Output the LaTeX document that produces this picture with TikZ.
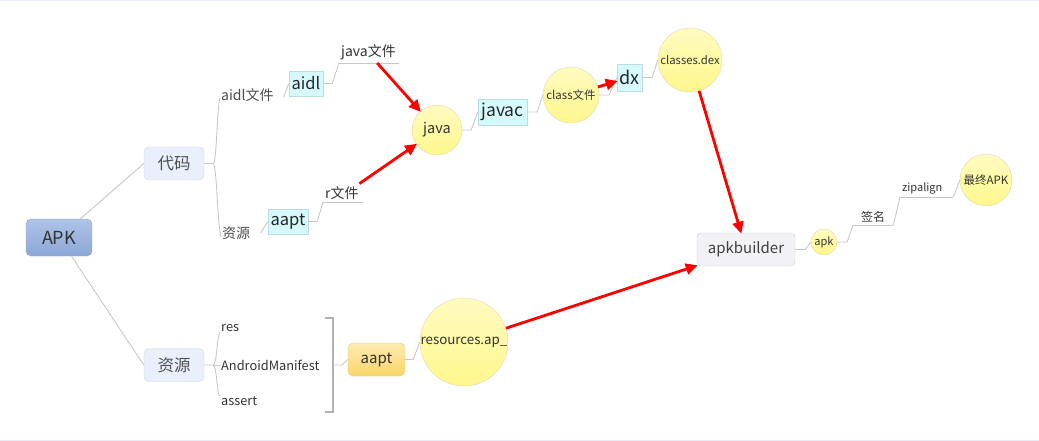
\documentclass[tikz,border=0pt]{standalone}
\usepackage{fontspec}
\setmainfont{Noto Sans CJK SC}
\usetikzlibrary{arrows.meta}
\definecolor{conn}{HTML}{C8C8C8}
\definecolor{txt}{HTML}{333333}
\definecolor{redarr}{HTML}{FF0000}
\tikzset{
  fs/.style={font=\fontsize{#1}{#1}\selectfont},
  apkbox/.style={draw=#1, rounded corners=5pt, top color=apktop, bottom color=apkbot, minimum width=66pt, minimum height=37pt, text=txt},
  mainbox/.style={draw=mainborder, fill=mainfill, rounded corners=5pt, minimum width=60pt, minimum height=33pt, text=maintext, fs=16.5},
  cyanbox/.style={draw=cyanborder, fill=cyanfill, inner sep=2pt, text=black!85, minimum height=26pt},
  bubble/.style={circle, draw=bubbleborder, top color=bubbletop, bottom color=bubblebot, inner sep=0pt, text=txt, minimum size=#1},
  plaintext/.style={inner xsep=1pt, inner ysep=2pt, text=txt, fs=14},
  underl/.style={inner xsep=2pt, inner ysep=2.5pt, text=txt, anchor=south west},
  link/.style={draw=conn, line width=0.9pt},
  redarrow/.style={draw=redarr, line width=2.8pt, -{Triangle[length=12pt,width=11pt]}, shorten >=-1pt},
}
\colorlet{apkborder}{blue!30!gray!60}
\definecolor{apktop}{HTML}{AEC3E8}
\definecolor{apkbot}{HTML}{8CA8D6}
\definecolor{mainborder}{HTML}{C9D6EC}
\definecolor{mainfill}{HTML}{E9F0FB}
\definecolor{maintext}{HTML}{505050}
\definecolor{cyanborder}{HTML}{BBDDE0}
\definecolor{cyanfill}{HTML}{D6FAFC}
\definecolor{bubbleborder}{HTML}{DDD9B0}
\definecolor{bubbletop}{HTML}{FFFBC0}
\definecolor{bubblebot}{HTML}{FFF78C}
\definecolor{grayborder}{HTML}{CACAD2}
\definecolor{grayfill}{HTML}{F1F1F6}
\definecolor{orangetop}{HTML}{FDEBB0}
\definecolor{orangebot}{HTML}{FBD56A}
\definecolor{orangeborder}{HTML}{E9C979}
\definecolor{frameline}{HTML}{E6EDF7}
\begin{document}
\begin{tikzpicture}[x=1pt,y=-1pt]
\useasboundingbox (0,0) rectangle (1039,441);
\draw[frameline, line width=1.2pt] (0,0.6) -- (1039,0.6);
\draw[frameline, line width=1.2pt] (0,440.2) -- (1039,440.2);

% main nodes
\node[apkbox=apkborder, fs=18] (apk) at (59,237.5) {APK};
\node[mainbox] (code) at (174,163.5) {代码};
\node[mainbox] (res) at (174,365) {资源};

% code branch
\node[plaintext, anchor=west, text=black!70] (aidlf) at (220,95) {aidl文件};
\node[plaintext, anchor=west, text=black!70] (resf) at (221,233) {资源};
\node[cyanbox, fs=16.5, minimum width=34pt, minimum height=25pt] (aidl) at (306,83.5) {aidl};
\node[cyanbox, fs=16.5, minimum width=40pt, minimum height=25pt] (aapt) at (288,221.5) {aapt};
\node[underl, fs=14, text width=56pt] (jf) at (339,63) {java文件};
\node[underl, fs=14, text width=36pt] (rf) at (323,202) {r文件};
\node[bubble=50pt, fs=14.5] (java) at (437,130) {java};
\node[cyanbox, fs=17.5, minimum width=49pt] (javac) at (502.5,112) {javac};
\node[bubble=56pt, fs=11.5] (cls) at (571,95) {class文件};
\node[cyanbox, fs=18, minimum width=25pt, minimum height=27pt] (dx) at (629.5,77.5) {dx};
\node[bubble=64pt, fs=11.3] (dex) at (690,60) {classes.dex};
\node[draw=grayborder, fill=grayfill, rounded corners=4pt, minimum width=98pt, minimum height=33pt, text=black!75, fs=15] (ab) at (746,249.5) {apkbuilder};
\node[bubble=26pt, fs=11] (apkc) at (824,242) {apk};
\node[underl, fs=12, text width=36pt, align=center] (sig) at (853,225) {签名};
\node[underl, fs=11, text width=49pt] (zip) at (900,197) {zipalign};
\node[bubble=52pt, fs=11.5] (final) at (986,180) {最终APK};

% resource branch
\node[plaintext, anchor=west, fs=12.8] (ri1) at (220,328) {res};
\node[plaintext, anchor=west, fs=12.8] (ri2) at (220,365) {AndroidManifest};
\node[plaintext, anchor=west, fs=12.8] (ri3) at (220,401) {assert};
\node[draw=orangeborder, top color=orangetop, bottom color=orangebot, rounded corners=5pt, minimum width=57pt, minimum height=33pt, text=txt, fs=15] (aapt2) at (376.5,359.5) {aapt};
\node[bubble=88pt, fs=13.3] (rap) at (464,342) {resources.ap\_};

% coordinates
\coordinate (cfork) at (213,163.5);
\coordinate (rfork) at (213,365);
\coordinate (brk) at (333,365);

% underlines
\draw[link] (jf.south west) -- (jf.south east);
\draw[link] (rf.south west) -- (rf.south east);
\draw[link] (sig.south west) -- (sig.south east);
\draw[link] (zip.south west) -- (zip.south east);

% gray connectors
\draw[link] (apk) -- (code.west);
\draw[link] (apk) -- (res.west);
\draw[link] (code.east) -- (cfork) .. controls (217,163.5) and (217,105) .. ([yshift=-3pt]aidlf.west);
\draw[link] (cfork) .. controls (217,163.5) and (217,222) .. ([yshift=-4pt]resf.west);
\draw[link] ([xshift=9pt,yshift=-2pt]aidlf.east) -- (aidl.west);
\draw[link] ([xshift=9pt]resf.east) -- (aapt.west);
\draw[link] (aidl.east) -- ++(9,0) -- (jf.south west);
\draw[link] (aapt.east) -- ++(9,0) -- (rf.south west);
\draw[link] (java.east) -- ++(9,0) -- (javac.west);
\draw[link] (javac.east) -- ++(10,0) -- (cls.west);
\draw[link] (cls.east) -- ++(10,0) -- (dx.west);
\draw[link] (dx.east) -- ++(10,0) -- (dex.west);
\draw[link] (ab.east) -- ++(10,0) -- (apkc.west);
\draw[link] (apkc.east) -- ++(10,0) -- (sig.south west);
\draw[link] (sig.south east) -- (zip.south west);
\draw[link] (zip.south east) -- (final.west);

\draw[link] (res.east) -- (rfork) .. controls (217,365) and (217,335) .. ([yshift=-4pt]ri1.west);
\draw[link] (rfork) -- (ri2.west);
\draw[link] (rfork) .. controls (217,365) and (217,398) .. ([yshift=5pt]ri3.west);
\draw[draw=black!30, line width=1.2pt] (325,318) -- (333,318) -- (333,412) -- (325,412);
\draw[link] (brk) -- ++(9,0) -- (aapt2.west);
\draw[link] (aapt2.east) -- ++(8,0) -- (rap.west);

% red arrows
\draw[redarrow] ([xshift=8pt]jf.south) -- (java);
\draw[redarrow] ([xshift=-4pt]rf.north east) -- (java);
\draw[redarrow] (cls) -- (dx);
\draw[redarrow] (dex) -- (ab);
\draw[redarrow] (rap) -- (ab);
\end{tikzpicture}
\end{document}
